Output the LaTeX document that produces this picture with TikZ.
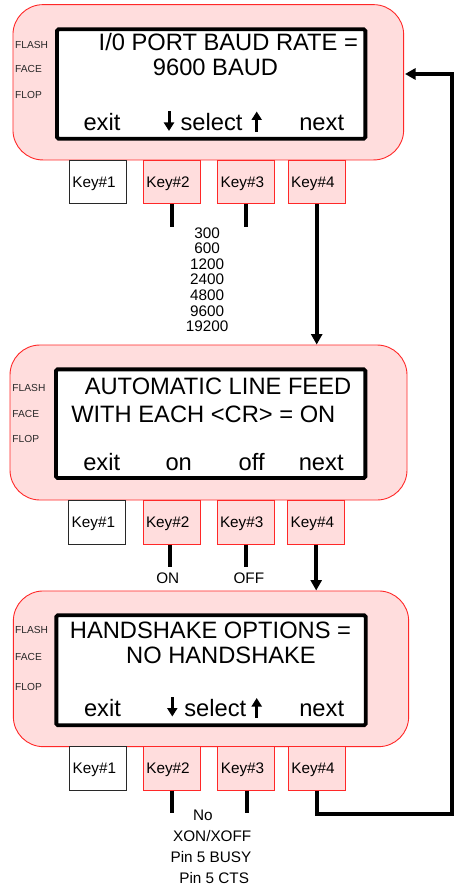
\documentclass[tikz,border=0pt]{standalone}
\usepackage{fontspec}
\setmainfont{Liberation Sans}
\usetikzlibrary{arrows.meta}
\definecolor{pnk}{RGB}{255,221,221}
\definecolor{rd}{RGB}{255,40,40}
\definecolor{ink}{RGB}{40,40,40}
\begin{document}
\begin{tikzpicture}[x=1pt,y=-1pt,
  panel/.style={draw=rd, fill=pnk, rounded corners=30pt, line width=0.9pt, inner sep=0pt},
  screen/.style={draw=black, fill=white, line width=3.8pt, rounded corners=1.5pt, inner sep=0pt},
  keybox/.style={draw=rd, fill=pnk, line width=0.9pt, minimum height=43.5pt, text width=51pt,
    inner xsep=3pt, inner ysep=0pt, align=left, text depth=0pt, font=\fontsize{15.3}{16}\selectfont},
  keywhite/.style={keybox, draw=ink, fill=white},
  big/.style={font=\fontsize{23.7}{25}\selectfont, inner sep=0pt, anchor=base},
  tiny/.style={font=\fontsize{10.2}{11}\selectfont, text=ink, inner sep=0pt, anchor=base west},
  lbl/.style={font=\fontsize{15.3}{16}\selectfont, inner sep=0pt, anchor=base},
  wire/.style={line width=4pt},
  arr/.style={line width=4pt, -{Triangle[length=10.5pt,width=11pt]}},
  sarr/.style={line width=3pt, -{Triangle[length=8.5pt,width=10pt]}},
]
\useasboundingbox (0,0) rectangle (456,888);

% ---------- panel 1 ----------
\node[panel, minimum width=390.7pt, minimum height=155.3pt] (p1) at (208.3,82.3) {};
\node[screen, minimum width=308.3pt, minimum height=109.3pt] (s1) at (211.2,84) {};
\node[tiny] (f1a) at (15,48.3) {FLASH};
\node[tiny] (f1b) at (15,72.7) {FACE};
\node[tiny] (f1c) at (15,98.7) {FLOP};
\node[big] (t1a) at (228.3,51) {I/0 PORT BAUD RATE =};
\node[big] (t1b) at (215.5,75.5) {9600 BAUD};
\node[big] (t1c) at (102,131) {exit};
\node[big] (t1d) at (211.5,131) {select};
\node[big] (t1e) at (321.7,131) {next};
\coordinate (d1a) at (169,111.5);
\coordinate (d1b) at (169,131);
\coordinate (u1a) at (256.7,131.5);
\coordinate (u1b) at (256.7,111.5);
\draw[sarr] (d1a) -- (d1b);
\draw[sarr] (u1a) -- (u1b);
\node[keywhite] (k11) at (97.8,182) {Key\#1};
\node[keybox] (k12) at (171.8,182) {Key\#2};
\node[keybox] (k13) at (246.2,182) {Key\#3};
\node[keybox] (k14) at (316.7,182) {Key\#4};
\coordinate (e12) at (171.8,227);
\coordinate (e13) at (246.2,227);
\draw[wire] (k12.south) -- (e12);
\draw[wire] (k13.south) -- (e13);
\foreach \v [count=\i from 0] in {300,600,1200,2400,4800,9600,19200}
  \node[lbl] (b\i) at (207.2,238.3+15.56*\i) {\v};

% ---------- panel 2 ----------
\node[panel, minimum width=397pt, minimum height=155pt] (p2) at (208.5,422.5) {};
\node[screen, minimum width=309.3pt, minimum height=108.7pt] (s2) at (210.7,423.7) {};
\node[tiny] (f2a) at (12.3,391) {FLASH};
\node[tiny] (f2b) at (12.3,417.7) {FACE};
\node[tiny] (f2c) at (12.3,442.7) {FLOP};
\node[big] (t2a) at (218,394) {AUTOMATIC LINE FEED};
\node[big] (t2b) at (203.3,422.5) {WITH EACH <CR> = ON};
\node[big] (t2c) at (101.7,470) {exit};
\node[big] (t2d) at (178.7,470) {on};
\node[big] (t2e) at (251.7,470) {off};
\node[big] (t2f) at (321.2,470) {next};
\node[keywhite] (k21) at (97.2,522.3) {Key\#1};
\node[keybox] (k22) at (171.5,522.3) {Key\#2};
\node[keybox] (k23) at (245.5,522.3) {Key\#3};
\node[keybox] (k24) at (316.2,522.3) {Key\#4};
\coordinate (e22) at (170,567);
\coordinate (e23) at (245.7,567);
\draw[wire] (e22 |- k22.south) -- (e22);
\draw[wire] (e23 |- k23.south) -- (e23);
\node[lbl] (on) at (167.8,583.3) {ON};
\node[lbl] (off) at (248.8,583.3) {OFF};

% ---------- panel 3 ----------
\node[panel, minimum width=395.3pt, minimum height=155.7pt] (p3) at (211,668.8) {};
\node[screen, minimum width=309.3pt, minimum height=110pt] (s3) at (211,670.3) {};
\node[tiny] (f3a) at (15,633.7) {FLASH};
\node[tiny] (f3b) at (15,660) {FACE};
\node[tiny] (f3c) at (15,690) {FLOP};
\node[big] (t3a) at (210.5,638.5) {HANDSHAKE OPTIONS =};
\node[big] (t3b) at (221,663.5) {NO HANDSHAKE};
\node[big] (t3c) at (102.5,716) {exit};
\node[big] (t3d) at (215.3,716) {select};
\node[big] (t3e) at (321.7,716) {next};
\coordinate (d3a) at (172.3,697);
\coordinate (d3b) at (172.3,716.5);
\coordinate (u3a) at (256.7,718);
\coordinate (u3b) at (256.7,698);
\draw[sarr] (d3a) -- (d3b);
\draw[sarr] (u3a) -- (u3b);
\node[keywhite] (k31) at (98.2,768.3) {Key\#1};
\node[keybox] (k32) at (171.8,768.3) {Key\#2};
\node[keybox] (k33) at (246.3,768.3) {Key\#3};
\node[keybox] (k34) at (316.8,768.3) {Key\#4};
\coordinate (e32) at (171.7,813.3);
\coordinate (e33) at (246.7,813.3);
\draw[wire] (e32 |- k32.south) -- (e32);
\draw[wire] (e33 |- k33.south) -- (e33);
\node[lbl] (h1) at (202.8,820.7) {No};
\node[lbl] (h2) at (212.2,841.7) {XON/XOFF};
\node[lbl] (h3) at (211,862.7) {Pin 5 BUSY};
\node[lbl] (h4) at (214.2,883.3) {Pin 5 CTS};

% ---------- connectors ----------
\draw[arr] (k14.south) -- (k14.south |- p2.north);
\draw[arr] (k24.south) -- (k24.south |- p3.north);
\coordinate (cr) at (451.7,814.3);
\coordinate (ce) at (405,74);
\draw[arr] (k34.south) |- (cr) |- (ce);
\end{tikzpicture}
\end{document}
